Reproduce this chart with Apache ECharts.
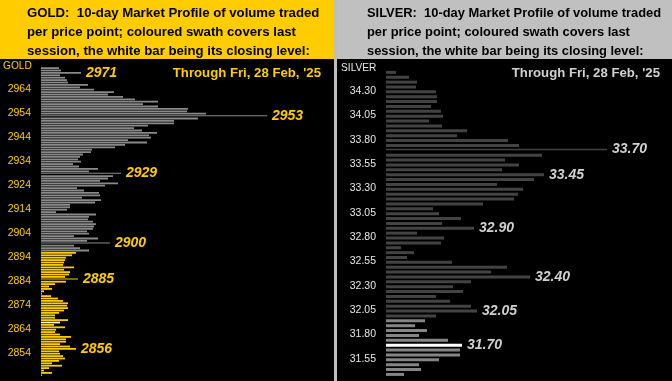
<!DOCTYPE html>
<html><head><meta charset="utf-8">
<script src="https://cdn.jsdelivr.net/npm/echarts/dist/echarts.min.js"></script>
<style>html,body{margin:0;padding:0;background:#000;}#c{width:672px;height:381px;}</style>
</head><body><div id="c"></div>
<script>
// ---------- GOLD ----------
const goldPrices = [
 '2973','2972','2971','2970','2969','2968','2967','2966','2965','2964',
 '2963','2962','2961','2960','2959','2958','2957','2956','2955','2954',
 '2953','2952','2951','2950','2949','2948','2947','2946','2945','2944',
 '2943','2942','2941','2940','2939','2938','2937','2936','2935','2934',
 '2933','2932','2931','2930','2929','2928','2927','2926','2925','2924',
 '2923','2922','2921','2920','2919','2918','2917','2916','2915','2914',
 '2913','2912','2911','2910','2909','2908','2907','2906','2905','2904',
 '2903','2902','2901','2900','2899','2898','2897','2896','2895','2894',
 '2893','2892','2891','2890','2889','2888','2887','2886','2885','2884',
 '2883','2882','2881','2880','2879','2878','2877','2876','2875','2874',
 '2873','2872','2871','2870','2869','2868','2867','2866','2865','2864',
 '2863','2862','2861','2860','2859','2858','2857','2856','2855','2854',
 '2853','2852','2851','2850','2849','2848','2847','2846','2845'];
const goldVolume = [
 18,20,40,19,24,26,27,47,39,53,
 73,67,82,94,117,102,117,147,146,165,
 226,157,133,133,107,93,101,116,108,110,
 87,106,84,74,51,50,42,39,37,40,
 32,38,57,48,80,72,67,59,77,64,
 36,43,58,59,41,60,54,29,29,26,
 15,55,48,47,52,55,53,52,46,48,
 33,57,46,69,33,39,48,35,31,25,
 24,23,22,33,23,29,28,24,37,25,
 14,8,11,3,1,10,17,22,27,26,
 27,23,18,14,14,27,19,13,24,15,
 14,19,30,25,25,19,29,35,18,19,
 22,24,18,11,21,8,3,11,1];
const goldTickLabels = ['2964','2954','2944','2934','2924','2914','2904','2894','2884','2874','2864','2854'];
const goldLabelled = ['2971','2953','2929','2900','2885','2856'];
const goldThin = ['2953','2929','2900','2885'];
const goldSessionHigh = 2896;
const goldClose = '2867';

// ---------- SILVER ----------
const silverPrices = [
 '34.50','34.45','34.40','34.35','34.30','34.25','34.20','34.15','34.10','34.05',
 '34.00','33.95','33.90','33.85','33.80','33.75','33.70','33.65','33.60','33.55',
 '33.50','33.45','33.40','33.35','33.30','33.25','33.20','33.15','33.10','33.05',
 '33.00','32.95','32.90','32.85','32.80','32.75','32.70','32.65','32.60','32.55',
 '32.50','32.45','32.40','32.35','32.30','32.25','32.20','32.15','32.10','32.05',
 '32.00','31.95','31.90','31.85','31.80','31.75','31.70','31.65','31.60','31.55',
 '31.50','31.45','31.40'];
const silverVolume = [
 10,23,31,30,50,51,51,45,55,57,
 43,56,81,71,122,133,221,156,119,133,
 116,158,148,111,137,132,128,97,47,53,
 75,56,88,31,58,55,15,28,21,66,
 121,105,144,85,67,77,50,64,85,91,
 50,39,29,41,33,62,76,74,74,53,
 33,35,18];
const silverTickLabels = ['34.30','34.05','33.80','33.55','33.30','33.05','32.80','32.55','32.30','32.05','31.80','31.55'];
const silverLabelled = ['33.70','33.45','32.90','32.40','32.05','31.70'];
const silverThin = ['33.70'];
const silverSessionHigh = 31.95;
const silverClose = '31.70';

const GOLD = '#FFCC00';
const SILVER_TXT = '#D0D0D0';

function goldColor(p){
  if (p === goldClose) return '#FFFFFF';
  return (+p <= goldSessionHigh) ? GOLD : '#8A8A8A';
}
function silverColor(p){
  if (p === silverClose) return '#FFFFFF';
  return (+p <= silverSessionHigh + 1e-9) ? '#858585' : '#434343';
}
const labelFont = {show:true, position:'right', distance:5, fontFamily:'"Liberation Sans", Arial, sans-serif',
  fontStyle:'italic', fontWeight:'bold', fontSize:14, formatter: p => p.name};

function build(prices, vols, thinList, labelled, colorFn, lblColor){
  const main = [], th = [];
  prices.forEach((p,i)=>{
    const item = {value: vols[i], itemStyle:{color: colorFn(p)}};
    if (labelled.includes(p)) item.label = Object.assign({}, labelFont, {color: lblColor});
    if (thinList.includes(p)) { main.push('-'); th.push(item); }
    else { main.push(item); th.push('-'); }
  });
  return {main, th};
}
const g = build(goldPrices, goldVolume, goldThin, goldLabelled, goldColor, GOLD);
const s = build(silverPrices, silverVolume, silverThin, silverLabelled, silverColor, SILVER_TXT);

const chart = echarts.init(document.getElementById('c'));
const FF = '"Liberation Sans", Arial, sans-serif';
function txt(x, y, text, color, font, align){
  return {type:'text', x:x, y:y, z:100, style:{text:text, fill:color, font:font, align:align||'left', verticalAlign:'middle'}};
}
chart.setOption({
  animation:false,
  backgroundColor:'#000',
  grid:[
    {left:41, top:66.5, width:290, height:309.6},
    {left:386, top:69.1, width:280, height:306.9}
  ],
  xAxis:[
    {gridIndex:0, type:'value', min:0, max:290, show:false},
    {gridIndex:1, type:'value', min:0, max:280, show:false}
  ],
  yAxis:[
    {gridIndex:0, type:'category', inverse:true, data:goldPrices,
     axisLine:{show:false}, axisTick:{show:false}, splitLine:{show:false},
     axisLabel:{color:GOLD, fontFamily:FF, fontSize:10.5, margin:10,
       interval:(i,v)=>goldTickLabels.includes(v)}},
    {gridIndex:1, type:'category', inverse:true, data:silverPrices,
     axisLine:{show:false}, axisTick:{show:false}, splitLine:{show:false},
     axisLabel:{color:'#E6E6E6', fontFamily:FF, fontSize:10.5, margin:10,
       interval:(i,v)=>silverTickLabels.includes(v)}}
  ],
  series:[
    {type:'bar', xAxisIndex:0, yAxisIndex:0, data:g.main, barWidth:1.8, barGap:'-100%'},
    {type:'bar', xAxisIndex:0, yAxisIndex:0, data:g.th, barWidth:1, barGap:'-100%'},
    {type:'bar', xAxisIndex:1, yAxisIndex:1, data:s.main, barWidth:3, barGap:'-100%'},
    {type:'bar', xAxisIndex:1, yAxisIndex:1, data:s.th, barWidth:1.3, barGap:'-100%'}
  ],
  graphic:[
    {type:'rect', z:-10, shape:{x:0,y:0,width:334,height:59}, style:{fill:GOLD}},
    {type:'rect', z:-10, shape:{x:334,y:0,width:3,height:381}, style:{fill:'#BDBDBD'}},
    {type:'rect', z:-10, shape:{x:337,y:0,width:335,height:59}, style:{fill:'#C0C0C0'}},
    txt(27, 13, 'GOLD:  10-day Market Profile of volume traded', '#000', 'bold 13.2px '+FF),
    txt(27, 32, 'per price point; coloured swath covers last', '#000', 'bold 13.2px '+FF),
    txt(27, 51, 'session, the white bar being its closing level:', '#000', 'bold 13.2px '+FF),
    txt(367, 13, 'SILVER:  10-day Market Profile of volume traded', '#000', 'bold 12.9px '+FF),
    txt(367, 32, 'per price point; coloured swath covers last', '#000', 'bold 12.9px '+FF),
    txt(367, 51, 'session, the white bar being its closing level:', '#000', 'bold 12.9px '+FF),
    txt(321, 73.5, "Through Fri, 28 Feb, '25", GOLD, 'bold 13.2px '+FF, 'right'),
    txt(660, 73, "Through Fri, 28 Feb, '25", SILVER_TXT, 'bold 13.2px '+FF, 'right'),
    txt(3, 66.5, 'GOLD', GOLD, '10.2px '+FF),
    txt(341, 68, 'SILVER', '#E6E6E6', '10.2px '+FF)
  ]
});
</script></body></html>
